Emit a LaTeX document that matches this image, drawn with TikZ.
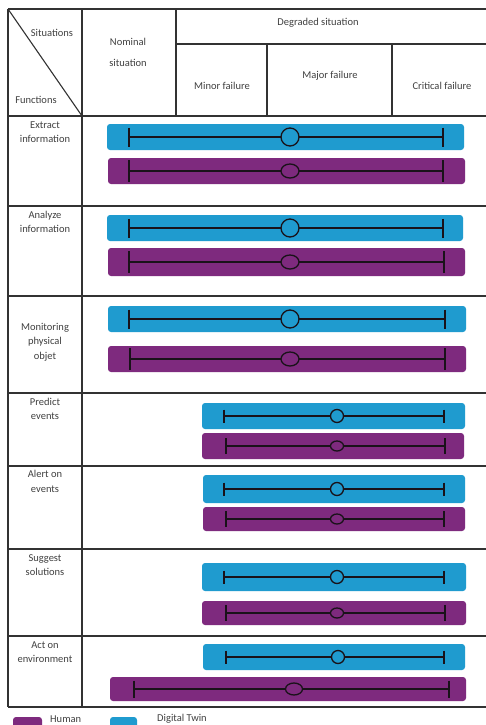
\documentclass[tikz,border=0pt]{standalone}
\usepackage{fontspec}
\setmainfont{Carlito}
\usetikzlibrary{shapes.geometric}
\definecolor{dtblue}{RGB}{31,155,207}
\definecolor{hpurple}{RGB}{126,42,126}
\definecolor{gridc}{RGB}{50,50,50}
\definecolor{txtc}{RGB}{64,64,64}
\definecolor{ebc}{RGB}{25,18,25}
\tikzset{
  gridline/.style={draw=gridc, line width=1.1pt},
  barbox/.style={rectangle, rounded corners=3pt, inner sep=0pt, outer sep=0pt, draw=none},
  midpt/.style={ellipse, draw=ebc, line width=1.3pt, inner sep=0pt, outer sep=0pt},
  ebline/.style={draw=ebc, line width=1.4pt},
  ebtick/.style={draw=ebc, line width=1.5pt},
  lbl/.style={text=txtc, font=\fontsize{10.5}{14.5}\selectfont, align=center, inner sep=0pt},
}
\newcommand\ebar[9]{%
  \node[barbox, fill=#2, minimum width={(#4-#3)*1pt}, minimum height={(#6-#5)*1pt}] (#1) at ({(#3+#4)/2},{(#5+#6)/2}) {};
  \coordinate (#1-l) at (#7,{(#5+#6)/2});
  \coordinate (#1-r) at (#8,{(#5+#6)/2});
  \node[midpt, fill=#2, minimum width=\ebrx, minimum height=\ebry] (#1-c) at (#9,{(#5+#6)/2}) {};
  \draw[ebline] (#1-l) -- (#1-c.west) (#1-c.east) -- (#1-r);
  \draw[ebtick] ([yshift=\ebt]#1-l) -- ([yshift=-\ebt]#1-l);
  \draw[ebtick] ([yshift=\ebt]#1-r) -- ([yshift=-\ebt]#1-r);
}
\begin{document}
\begin{tikzpicture}[x=1pt, y=-1pt]
\useasboundingbox (0,0) rectangle (486,725);
\clip (0,0) rectangle (486,725);
\fill[white] (0,0) rectangle (486,725);
% table grid
\draw[gridline] (8,9) -- (490,9);
\draw[gridline] (176,44) -- (490,44);
\foreach \yy in {116,206,296,393,466,549,636,707} {\draw[gridline] (8,\yy) -- (490,\yy);}
\draw[gridline] (8,9) -- (8,707);
\draw[gridline] (82,9) -- (82,707);
\draw[gridline] (176,9) -- (176,116);
\draw[gridline] (267,44) -- (267,116);
\draw[gridline] (392,44) -- (392,116);
\draw[gridline] (8,9) -- (82,116);
% header texts
\node[lbl] (sit) at (52,33) {Situations};
\node[lbl] (fun) at (36,100) {Functions};
\node[lbl] (nom1) at (128,42) {Nominal};
\node[lbl] (nom2) at (128,63) {situation};
\node[lbl] (deg) at (318,23) {Degraded situation};
\node[lbl] (minf) at (222,86) {Minor failure};
\node[lbl] (majf) at (330,76) {Major failure};
\node[lbl] (crit) at (442,86) {Critical failure};
% row labels
\node[lbl] (r1) at (45,132) {Extract\\information};
\node[lbl] (r2) at (45,222) {Analyze\\information};
\node[lbl] (r3) at (45,342) {Monitoring\\physical\\objet};
\node[lbl] (r4) at (45,409) {Predict\\events};
\node[lbl] (r5) at (45,481.5) {Alert on\\events};
\node[lbl] (r6) at (45,565) {Suggest\\solutions};
\node[lbl] (r7) at (45,652) {Act on\\environment};
% bars rows 1-3
\def\ebrx{18pt}\def\ebry{18pt}\def\ebt{9.5pt}
\ebar{b1}{dtblue}{107}{464}{124}{150}{129}{443}{290}
\ebar{b2}{dtblue}{107}{463}{215}{241}{129}{443}{290}
\ebar{b3}{dtblue}{108}{466}{306}{332}{129}{445}{290}
\def\ebrx{18pt}\def\ebry{14pt}\def\ebt{11pt}
\ebar{p1}{hpurple}{108}{465}{158}{184}{129}{443}{290}
\ebar{p2}{hpurple}{108}{465}{248}{276}{129}{444}{290}
\ebar{p3}{hpurple}{108}{466}{346}{372}{130}{445}{290}
% bars rows 4-7
\def\ebrx{13pt}\def\ebry{13pt}\def\ebt{6.5pt}
\ebar{b4}{dtblue}{202}{465}{403}{429}{224}{444}{337}
\ebar{b5}{dtblue}{203}{465}{475}{503}{224}{444}{337}
\ebar{b6}{dtblue}{202}{466}{563}{591}{224}{444}{337}
\ebar{b7}{dtblue}{203}{465}{644}{670}{226}{444}{338}
\def\ebrx{13pt}\def\ebry{10pt}\def\ebt{8pt}
\ebar{p4}{hpurple}{202}{464}{433}{459}{226}{445}{337}
\ebar{p5}{hpurple}{203}{465}{507}{531}{226}{444}{337}
\ebar{p6}{hpurple}{202}{466}{601}{625}{226}{445}{337}
\def\ebrx{17pt}\def\ebry{12pt}\def\ebt{8.5pt}
\ebar{p7}{hpurple}{110}{466}{677}{701}{134}{449}{294}
% legend
\node[barbox, fill=hpurple, minimum width=29pt, minimum height=14pt, anchor=north west] (lgh) at (13,717) {};
\node[lbl, anchor=north west] (lght) at (50,716) {Human};
\node[barbox, fill=dtblue, minimum width=27pt, minimum height=14pt, anchor=north west] (lgd) at (110,717) {};
\node[lbl, anchor=north west] (lgdt) at (157,714.5) {Digital Twin};
\end{tikzpicture}
\end{document}
